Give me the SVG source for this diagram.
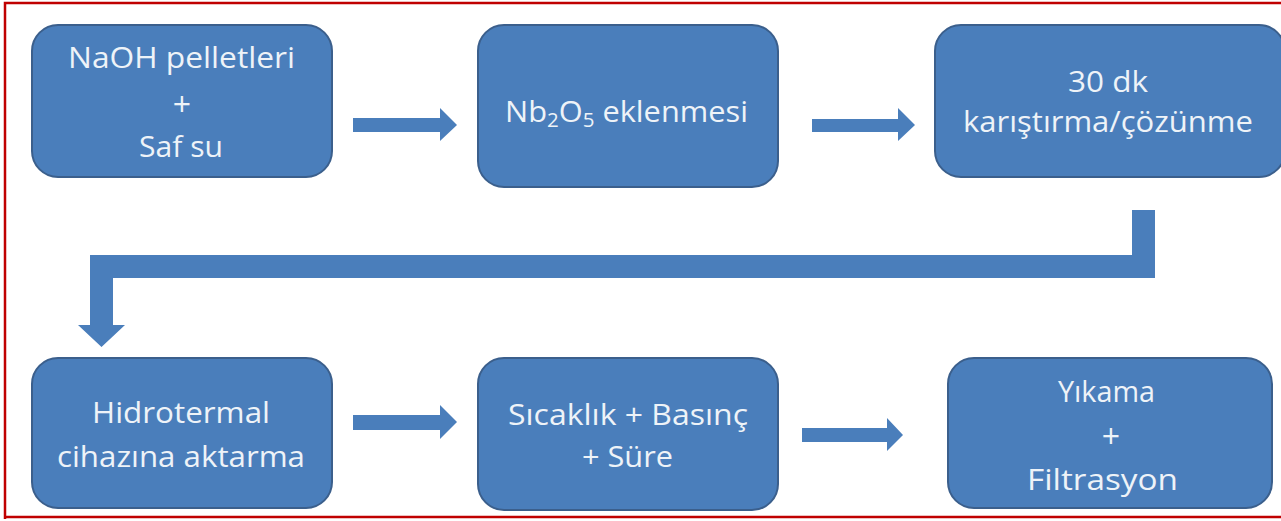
<svg xmlns="http://www.w3.org/2000/svg" width="1281" height="521" viewBox="0 0 1281 521">
<style>
.box{fill:#4a7ebb;stroke:#3b5f8c;stroke-width:2}
.t{font-family:"Open Sans","Noto Sans","Liberation Sans",sans-serif;font-size:30px;fill:#eef3f8}
.p{font-size:32px}
.c{fill:#4a7ebb}
</style>
<rect x="0" y="0" width="1281" height="521" fill="#ffffff"/>
<path d="M5,519 V3 H1281 M5,517 H1281" fill="none" stroke="#c00000" stroke-width="2.5"/>
<g id="connectors">
<polygon class="c" points="353,118 440,118 440,108 457,125 440,141 440,132 353,132"/>
<polygon class="c" points="812,119 898,119 898,108 915,125 898,141 898,132 812,132"/>
<polygon class="c" points="1132,210 1155,210 1155,278 113,278 113,325 125,325 101.5,347 78,325 90,325 90,255 1132,255"/>
<polygon class="c" points="353,415 440,415 440,405 457,422 440,439 440,430 353,430"/>
<polygon class="c" points="802,428 887,428 887,418 903,435 887,451 887,442 802,442"/>
</g>
<g id="n1">
<rect class="box" x="32" y="25" width="300" height="152" rx="26"/>
<text class="t" x="68" y="68" textLength="227" lengthAdjust="spacingAndGlyphs">NaOH pelletleri</text>
<text class="t p" x="182" y="116" text-anchor="middle">+</text>
<text class="t" x="139" y="157" textLength="84" lengthAdjust="spacingAndGlyphs">Saf su</text>
</g>
<g id="n2">
<rect class="box" x="478" y="25" width="300" height="162" rx="26"/>
<text class="t" x="505" y="122" textLength="243" lengthAdjust="spacingAndGlyphs">Nb<tspan font-size="20" dy="5">2</tspan><tspan dy="-5">O</tspan><tspan font-size="20" dy="5">5</tspan><tspan dy="-5"> eklenmesi</tspan></text>
</g>
<g id="n3">
<rect class="box" x="935" y="25" width="350" height="152" rx="26"/>
<text class="t" x="1068" y="92" textLength="80" lengthAdjust="spacingAndGlyphs">30 dk</text>
<text class="t" x="963" y="132" textLength="290" lengthAdjust="spacingAndGlyphs">karıştırma/çözünme</text>
</g>
<g id="n4">
<rect class="box" x="32" y="358" width="300" height="150" rx="26"/>
<text class="t" x="92" y="423" textLength="178" lengthAdjust="spacingAndGlyphs">Hidrotermal</text>
<text class="t" x="57" y="467" textLength="248" lengthAdjust="spacingAndGlyphs">cihazına aktarma</text>
</g>
<g id="n5">
<rect class="box" x="478" y="358" width="300" height="152" rx="26"/>
<text class="t" x="508" y="425" textLength="240" lengthAdjust="spacingAndGlyphs">Sıcaklık + Basınç</text>
<text class="t" x="582" y="467" textLength="91" lengthAdjust="spacingAndGlyphs">+ Süre</text>
</g>
<g id="n6">
<rect class="box" x="948" y="358" width="324" height="150" rx="26"/>
<text class="t" x="1058" y="402" textLength="97" lengthAdjust="spacingAndGlyphs">Yıkama</text>
<text class="t p" x="1111" y="448" text-anchor="middle">+</text>
<text class="t" x="1027" y="490" textLength="151" lengthAdjust="spacingAndGlyphs">Filtrasyon</text>
</g>
</svg>
